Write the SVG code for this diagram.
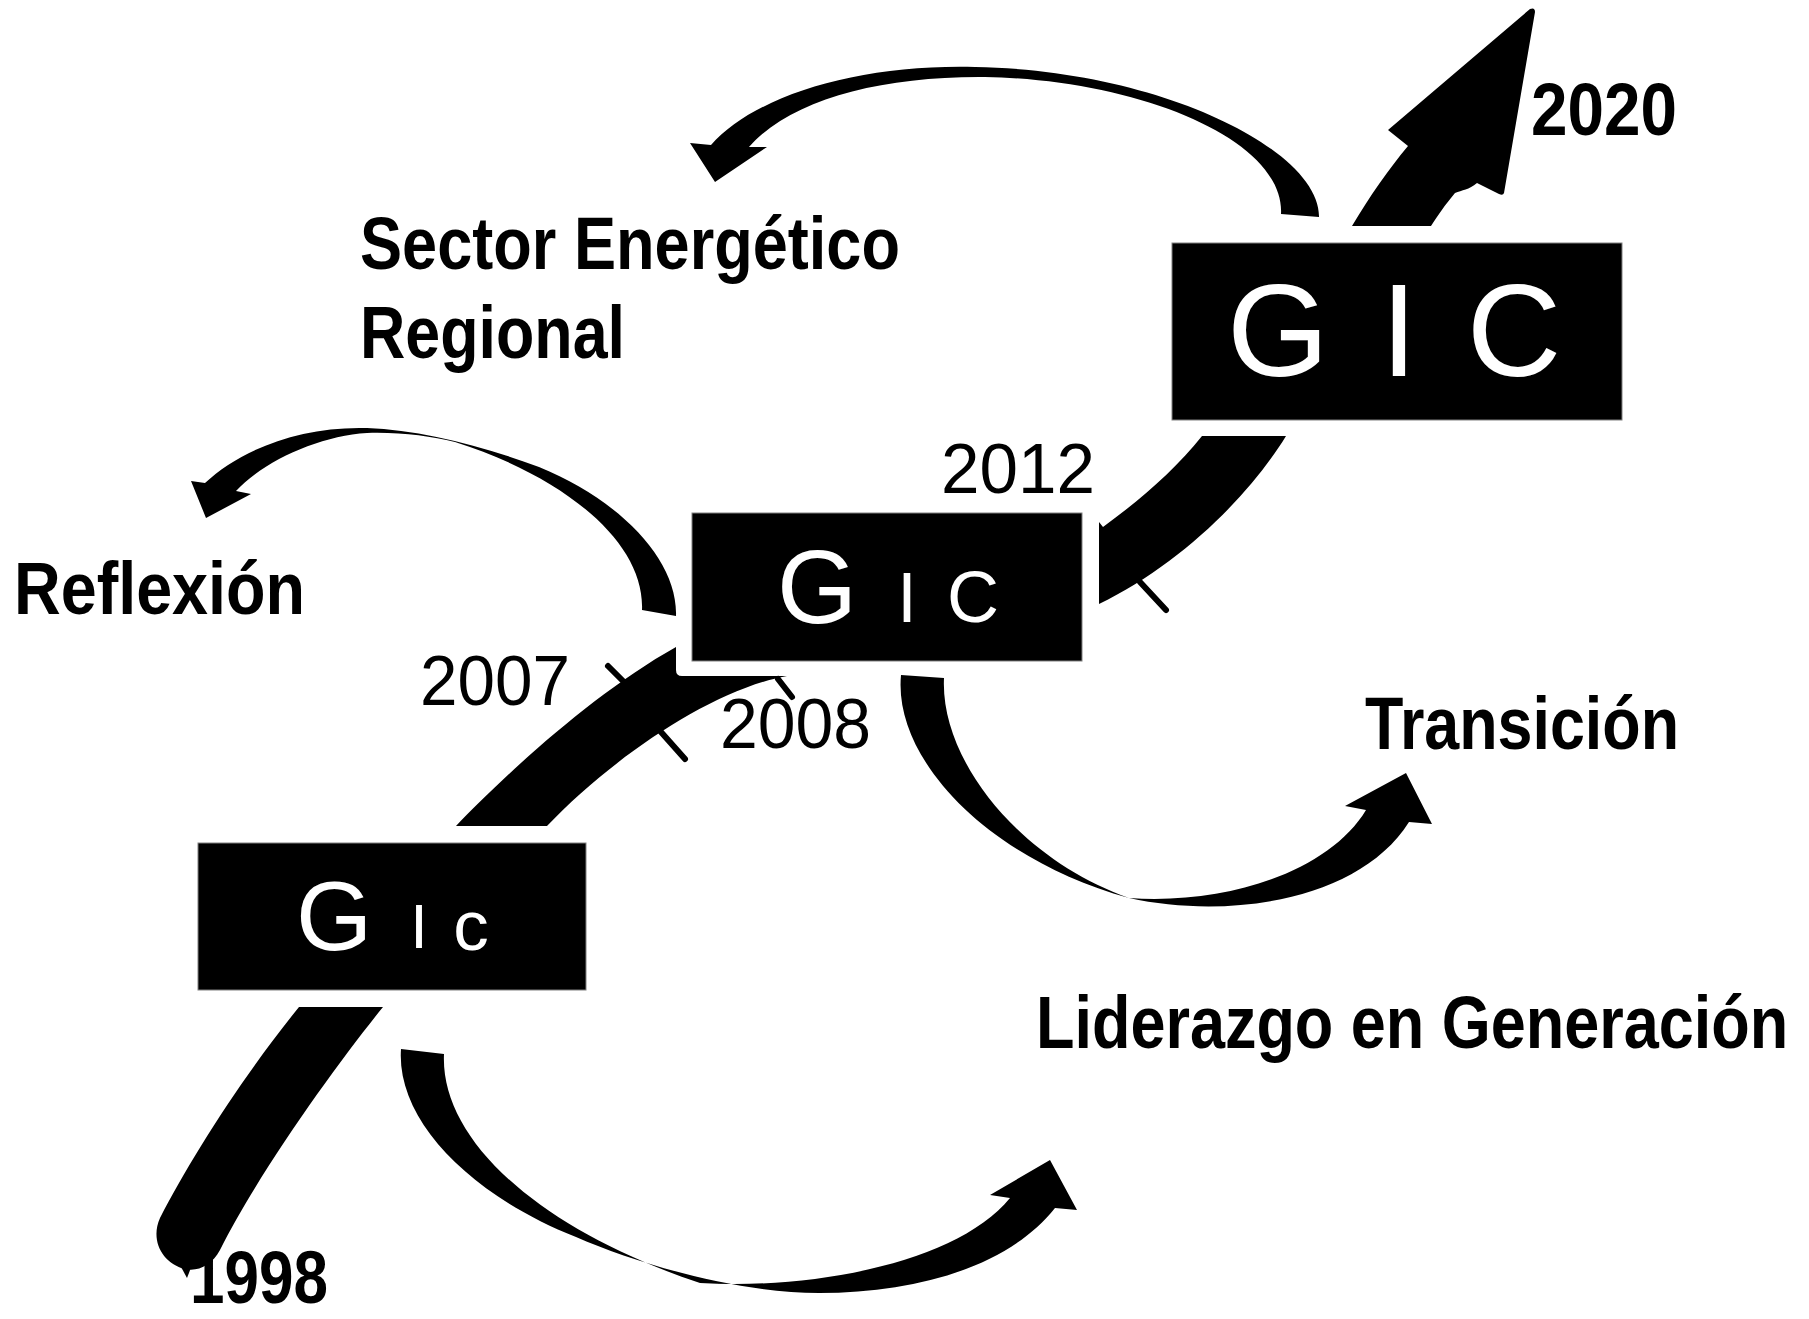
<svg xmlns="http://www.w3.org/2000/svg" width="1809" height="1319" viewBox="0 0 1809 1319">
<style>
.box{fill:#000;stroke:#808080;stroke-width:1}
.gic{fill:#fff;font-family:"Liberation Sans",Arial,sans-serif;text-anchor:middle}
.lbl{fill:#000;font-family:"Liberation Sans",Arial,sans-serif;font-weight:bold;font-size:74px}
.yr{fill:#000;font-family:"Liberation Sans",Arial,sans-serif;font-size:71px}
.arr{fill:#000;stroke:none}
.tick{stroke:#000;stroke-width:6;stroke-linecap:round;fill:none}
</style>
<rect width="1809" height="1319" fill="#fff"/>

<g id="connectors">
  <!-- top arc: to Sector Energético Regional -->
  <path class="arr" d="M1319,217 C1320,150 1160,70 975,67 C860,64 755,95 711,145 L690,143 L715,182 L767,147 L749,147 C790,100 880,76 985,77 C1140,80 1285,140 1281,214 Z"/>
  <!-- 2020 arrow -->
  <path class="arr" d="M1352,226 C1370,196 1388,170 1408,146 L1388,130 L1530,9 Q1535,7 1535,12 L1504,193 Q1503,196 1499,194 L1477,183 C1469,190 1462,190 1455,193 C1445,205 1438,215 1431,226 Z"/>
  <!-- Reflexión arc -->
  <path class="arr" d="M676,616 C678,560 620,500 539,467 C480,445 420,430 367,428 C300,426 240,450 205,483 L191,481 L206,518 L251,494 L236,491 C265,460 320,436 367,433 C400,432 430,436 455,442 C560,475 645,540 642,610 Z"/>
  <!-- 2012 arrow: top box to middle box -->
  <path class="arr" d="M1202,436 L1286,436 C1250,495 1180,565 1099,604 L1099,522 L1103,527 C1140,500 1175,470 1202,436 Z"/>
  <line class="tick" x1="1140" y1="582" x2="1166" y2="610"/>
  <!-- 2007/2008 band: bottom box to middle box -->
  <path class="arr" d="M456,826 C500,780 590,695 676,647 L676,670 Q676,676 682,676 L787,676 C710,690 610,760 547,826 Z"/>
  <line class="tick" x1="608" y1="666" x2="623" y2="681"/>
  <line class="tick" x1="661" y1="732" x2="685" y2="759"/>
  <line class="tick" x1="778" y1="679" x2="792" y2="697"/>
  <!-- 1998 band -->
  <path class="arr" d="M299,1007 L383,1007 C340,1060 260,1170 220,1250 C212,1265 198,1272 185,1269 C162,1263 150,1240 160,1218 C190,1160 240,1080 299,1007 Z"/>
  <path class="arr" d="M180,1265 L192,1265 L187,1278 Z"/>
  <!-- bottom arc: to Liderazgo en Generación -->
  <path class="arr" d="M401,1049 C396,1120 470,1195 576,1237 C640,1265 740,1293 819,1293 C920,1293 1010,1265 1055,1208 L1077,1210 L1050,1160 L990,1195 L1010,1198 C960,1260 820,1290 700,1283 C540,1230 440,1140 444,1054 Z"/>
  <!-- Transición arc -->
  <path class="arr" d="M901,675 C893,760 990,860 1129,898 C1230,920 1360,900 1409,822 L1432,824 L1406,773 L1345,806 L1366,810 C1330,870 1230,905 1129,898 C1020,860 940,760 944,678 Z"/>
</g>

<g id="node-gic-top">
  <rect class="box" x="1172" y="243" width="450" height="177"/>
  <text class="gic" x="1278" y="376" font-size="131">G</text>
  <text class="gic" x="1399" y="376" font-size="131">I</text>
  <text class="gic" x="1514" y="376" font-size="131">C</text>
</g>
<g id="node-gic-middle">
  <rect class="box" x="692" y="513" width="390" height="148"/>
  <text class="gic" x="817" y="623" font-size="103">G</text>
  <text class="gic" x="907" y="622" font-size="70">I</text>
  <text class="gic" x="973" y="622" font-size="72">C</text>
</g>
<g id="node-gic-bottom">
  <rect class="box" x="198" y="843" width="388" height="147"/>
  <text class="gic" x="334" y="950" font-size="98">G</text>
  <text class="gic" x="419" y="948" font-size="63">I</text>
  <text class="gic" x="471" y="950" font-size="71">c</text>
</g>

<g id="labels">
  <text class="lbl" x="360" y="269" textLength="540" lengthAdjust="spacingAndGlyphs">Sector Energético</text>
  <text class="lbl" x="360" y="358" textLength="265" lengthAdjust="spacingAndGlyphs">Regional</text>
  <text class="lbl" x="14" y="614" textLength="291" lengthAdjust="spacingAndGlyphs">Reflexión</text>
  <text class="lbl" x="1365" y="749" textLength="314" lengthAdjust="spacingAndGlyphs">Transición</text>
  <text class="lbl" transform="translate(1036,1048) scale(0.851,1)" x="0" y="0">Liderazgo en Generación</text>
  <text class="lbl" x="1531" y="135" textLength="146" lengthAdjust="spacingAndGlyphs">2020</text>
  <text class="lbl" x="190" y="1303" font-size="70" textLength="138" lengthAdjust="spacingAndGlyphs">1998</text>
  <text class="yr" x="941" y="493" textLength="154" lengthAdjust="spacingAndGlyphs">2012</text>
  <text class="yr" x="420" y="705" textLength="150" lengthAdjust="spacingAndGlyphs">2007</text>
  <text class="yr" x="720" y="748" textLength="151" lengthAdjust="spacingAndGlyphs">2008</text>
</g>
</svg>
